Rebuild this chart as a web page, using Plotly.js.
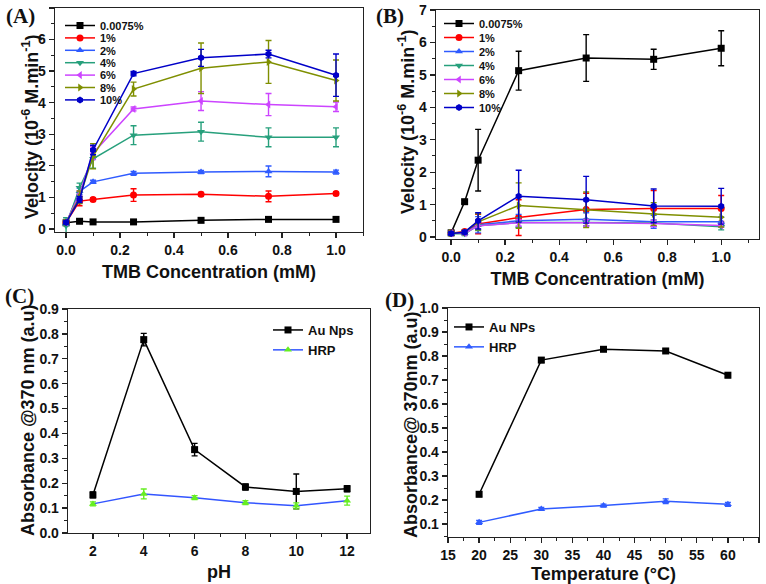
<!DOCTYPE html>
<html><head><meta charset="utf-8">
<script src="https://cdn.plot.ly/plotly-3.0.1.min.js"></script>
<style>html,body{margin:0;padding:0;background:#fff}</style>
</head><body><div id="chart" style="width:766px;height:584px"></div>
<script>
// ---------- DATA ----------
const tmbConc = [0, 0.05, 0.1, 0.25, 0.5, 0.75, 1.0];
const seriesNames = ['0.0075%', '1%', '2%', '4%', '6%', '8%', '10%'];

// Panel A
const velA_0075 = [0.19, 0.24, 0.22, 0.22, 0.27, 0.30, 0.30];
const velA_1 = [0.20, 0.88, 0.93, 1.07, 1.10, 1.03, 1.12];
const velA_2 = [0.17, 1.19, 1.49, 1.76, 1.80, 1.82, 1.80];
const velA_4 = [0.10, 1.30, 2.22, 2.97, 3.08, 2.90, 2.90];
const velA_6 = [0.20, 1.10, 2.40, 3.80, 4.05, 3.94, 3.87];
const velA_8 = [0.20, 1.00, 2.30, 4.43, 5.09, 5.29, 4.70];
const velA_10 = [0.20, 0.93, 2.50, 4.92, 5.42, 5.54, 4.87];
const errA_0075 = [0.05, 0.06, 0.03, 0.03, 0.05, 0.06, 0.05];
const errA_1 = [0.05, 0.15, 0.05, 0.20, 0.05, 0.17, 0.05];
const errA_2 = [0.05, 0.10, 0.05, 0.06, 0.05, 0.17, 0.06];
const errA_4 = [0.25, 0.15, 0.30, 0.30, 0.30, 0.30, 0.30];
const errA_6 = [0.05, 0.10, 0.20, 0.06, 0.30, 0.35, 0.15];
const errA_8 = [0.05, 0.20, 0.40, 0.22, 0.80, 0.68, 0.65];
const errA_10 = [0.05, 0.10, 0.15, 0.07, 0.27, 0.12, 0.67];

// Panel B
const velB_0075 = [0.13, 1.09, 2.37, 5.13, 5.52, 5.48, 5.82];
const velB_1 = [0.12, 0.17, 0.40, 0.60, 0.85, 0.88, 0.88];
const velB_2 = [0.12, 0.12, 0.38, 0.50, 0.55, 0.47, 0.47];
const velB_4 = [0.10, 0.10, 0.35, 0.45, 0.45, 0.43, 0.32];
const velB_6 = [0.12, 0.12, 0.35, 0.44, 0.44, 0.42, 0.36];
const velB_8 = [0.12, 0.15, 0.47, 0.97, 0.84, 0.71, 0.61];
const velB_10 = [0.11, 0.15, 0.50, 1.26, 1.15, 0.96, 0.95];
const errB_0075 = [0.05, 0.05, 0.95, 0.60, 0.72, 0.31, 0.54];
const errB_1 = [0.05, 0.05, 0.30, 0.55, 0.50, 0.55, 0.40];
const errB_2 = [0.05, 0.05, 0.25, 0.20, 0.20, 0.20, 0.15];
const errB_4 = [0.05, 0.05, 0.15, 0.15, 0.10, 0.10, 0.10];
const errB_6 = [0.05, 0.05, 0.10, 0.10, 0.10, 0.10, 0.05];
const errB_8 = [0.05, 0.05, 0.25, 0.70, 0.55, 0.35, 0.30];
const errB_10 = [0.05, 0.05, 0.25, 0.80, 0.72, 0.52, 0.55];

// Panel C
const pH = [2, 4, 6, 8, 10, 12];
const absC_Au = [0.153, 0.777, 0.335, 0.185, 0.167, 0.178];
const errC_Au = [0.012, 0.025, 0.025, 0.012, 0.070, 0.012];
const absC_HRP = [0.117, 0.157, 0.142, 0.122, 0.109, 0.130];
const errC_HRP = [0.008, 0.020, 0.008, 0.008, 0.012, 0.018];

// Panel D
const tempC = [20, 30, 40, 50, 60];
const absD_Au = [0.224, 0.783, 0.828, 0.821, 0.720];
const errD_Au = [0.010, 0.010, 0.008, 0.008, 0.010];
const absD_HRP = [0.107, 0.163, 0.177, 0.195, 0.182];
const errD_HRP = [0.008, 0.006, 0.006, 0.010, 0.008];

// ---------- STYLE ----------
const seriesColors = ['#000000', '#ff0000', '#2f5bff', '#27a07c', '#cc44ff', '#7f8f00', '#0000c8'];
const seriesSymbols = ['square', 'circle', 'triangle-up', 'triangle-down', 'triangle-left', 'triangle-right', 'hexagon'];
const FONT = 'Liberation Sans, Arial, sans-serif';
const INK = '#222';

const velA = [velA_0075, velA_1, velA_2, velA_4, velA_6, velA_8, velA_10];
const errA = [errA_0075, errA_1, errA_2, errA_4, errA_6, errA_8, errA_10];
const velB = [velB_0075, velB_1, velB_2, velB_4, velB_6, velB_8, velB_10];
const errB = [errB_0075, errB_1, errB_2, errB_4, errB_6, errB_8, errB_10];

function tr(x, y, e, name, color, symbol, xa, ya, leg, mcolor) {
  return {
    type: 'scatter', mode: 'lines+markers', x: x, y: y, name: name,
    xaxis: xa, yaxis: ya, legend: leg,
    line: {color: color, width: 1.5},
    marker: {symbol: symbol, size: 7, color: mcolor || color},
    error_y: {type: 'data', array: e, visible: true, color: mcolor || color, thickness: 1.4, width: 3}
  };
}

const data = [];
for (let i = 0; i < seriesNames.length; i++) {
  data.push(tr(tmbConc, velA[i], errA[i], seriesNames[i], seriesColors[i], seriesSymbols[i], 'x', 'y', 'legend'));
}
for (let i = 0; i < seriesNames.length; i++) {
  data.push(tr(tmbConc, velB[i], errB[i], seriesNames[i], seriesColors[i], seriesSymbols[i], 'x2', 'y2', 'legend2'));
}
data.push(tr(pH, absC_Au, errC_Au, 'Au Nps', '#000000', 'square', 'x3', 'y3', 'legend3'));
data.push(tr(pH, absC_HRP, errC_HRP, 'HRP', '#3355ff', 'triangle-up', 'x3', 'y3', 'legend3', '#66ee22'));
data.push(tr(tempC, absD_Au, errD_Au, 'Au NPs', '#000000', 'square', 'x4', 'y4', 'legend4'));
data.push(tr(tempC, absD_HRP, errD_HRP, 'HRP', '#2f5bff', 'triangle-up', 'x4', 'y4', 'legend4'));

const TITLEFONT = {family: FONT, size: 18, weight: 700, color: '#111'};

function axis(domain, range, dtick, minor, anchor, fmt, title, standoff) {
  return {
    domain: domain, range: range, anchor: anchor,
    tickmode: 'linear', tick0: 0, dtick: dtick, tickformat: fmt,
    ticks: 'outside', ticklen: 5, tickwidth: 1.3, tickcolor: INK,
    showline: true, linecolor: INK, linewidth: 1.3, mirror: true,
    showgrid: false, zeroline: false, automargin: false,
    minor: {dtick: minor, tick0: 0, ticks: 'outside', ticklen: 3, tickwidth: 1, tickcolor: INK, showgrid: false},
    tickfont: {family: FONT, size: 14, weight: 700, color: '#111'},
    title: {text: title, standoff: standoff, font: TITLEFONT}
  };
}

const W = 766, H = 584;
const px = v => v / W, py = v => 1 - v / H;

function legend(xp, yp, size) {
  return {x: px(xp), y: py(yp), xanchor: 'left', yanchor: 'top', bgcolor: 'rgba(0,0,0,0)',
    borderwidth: 0, font: {family: FONT, size: size, weight: 700, color: '#111'}, itemwidth: 30};
}

const velTitle = 'Velocity (10<sup>-6</sup> M.min<sup>-1</sup>)';
// y-axis titles placed as rotated annotations so they sit where the reference has them
const yTitles = [
  [velTitle, 30, 127], [velTitle, 406, 122],
  ['Absorbance @370 nm (a.u)', 28, 420], ['Absorbance@ 370nm (a.u)', 411, 424]
];
const panelLabels = [['(A)', 4, 16], ['(B)', 374, 16], ['(C)', 3, 296], ['(D)', 383, 300]];

const layout = {
  width: W, height: H, margin: {l: 0, r: 0, t: 0, b: 0},
  paper_bgcolor: '#fff', plot_bgcolor: '#fff', showlegend: true,
  xaxis: axis([px(55), px(363)], [-0.041, 1.1], 0.2, 0.1, 'y', '.1f', 'TMB Concentration (mM)', 8),
  yaxis: axis([py(232), py(8)], [-0.1, 7.0], 1, 0.5, 'x', 'd', '', 4),
  xaxis2: axis([px(436), px(759)], [-0.056, 1.14], 0.2, 0.1, 'y2', '.1f', 'TMB Concentration (mM)', 8),
  yaxis2: axis([py(239), py(10)], [-0.06, 7.0], 1, 0.5, 'x2', 'd', '', 4),
  xaxis3: axis([px(68), px(370)], [1.02, 12.9], 2, 1, 'y3', 'd', 'pH', 7),
  yaxis3: axis([py(533), py(309)], [0, 0.9], 0.1, 0.05, 'x3', '.1f', '', 2),
  xaxis4: axis([px(448), px(759)], [15, 65], 5, 2.5, 'y4', 'd', 'Temperature (°C)', 7),
  yaxis4: axis([py(537), py(308)], [0.046, 1.0], 0.1, 0.05, 'x4', '.1f', '', 2),
  legend: legend(60, 11, 11),
  legend2: legend(439, 9, 11),
  legend3: legend(268, 315, 13),
  legend4: legend(449, 312, 13),
  annotations: panelLabels.map(a => ({text: a[0], x: px(a[1]), y: py(a[2]), xref: 'paper', yref: 'paper',
    xanchor: 'left', yanchor: 'middle', showarrow: false,
    font: {family: 'Liberation Serif, Times New Roman, serif', size: 21, weight: 700, color: '#111'}}))
    .concat(yTitles.map(a => ({text: a[0], x: px(a[1]), y: py(a[2]), xref: 'paper', yref: 'paper',
      xanchor: 'center', yanchor: 'middle', textangle: -90, showarrow: false, font: TITLEFONT})))
};

Plotly.newPlot('chart', data, layout, {staticPlot: true, displayModeBar: false}).then(function (gd) {
  // tighten vertical spacing of legend entries to match the reference
  const spacing = {legend: 12.4, legend2: 14.0};
  Object.keys(spacing).forEach(function (cls) {
    const g = gd.querySelector('g.' + cls);
    if (!g) return;
    const items = Array.from(g.querySelectorAll('g.traces'));
    if (!items.length) return;
    const y0 = items[0].getCTM().f;
    items.forEach(function (el, i) {
      const cur = el.getCTM().f;
      const delta = y0 + i * spacing[cls] - cur;
      const t = el.getAttribute('transform') || 'translate(0,0)';
      const m = t.match(/translate\(\s*([-\d.e]+)[ ,]+([-\d.e]+)\s*\)/);
      const tx = m ? parseFloat(m[1]) : 0, ty = m ? parseFloat(m[2]) : 0;
      el.setAttribute('transform', 'translate(' + tx + ',' + (ty + delta) + ')');
    });
  });
});
</script></body></html>
